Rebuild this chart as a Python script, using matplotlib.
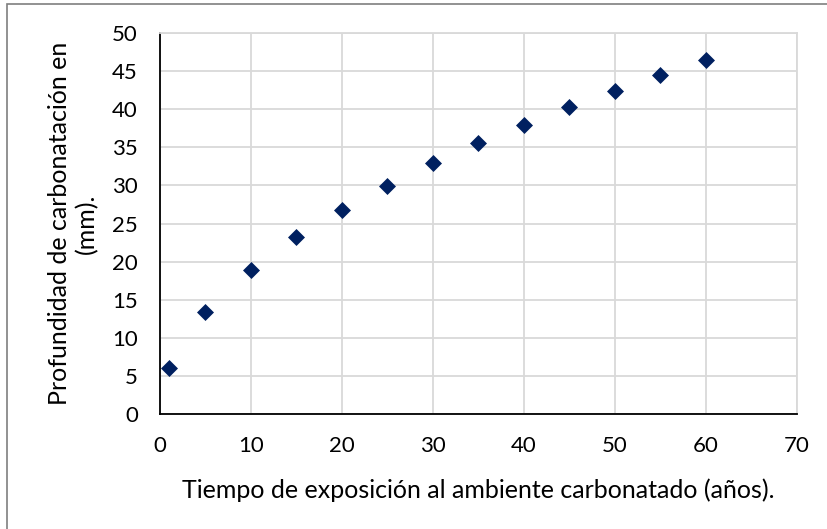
import matplotlib
matplotlib.use("Agg")
import matplotlib.pyplot as plt
from matplotlib.patches import Rectangle

# data
tiempo = [1, 5, 10, 15, 20, 25, 30, 35, 40, 45, 50, 55, 60]
profundidad = [6.0, 13.4, 18.9, 23.2, 26.8, 29.9, 32.9, 35.5, 37.9, 40.3, 42.4, 44.5, 46.5]
x_ticks = [0, 10, 20, 30, 40, 50, 60, 70]
y_ticks = [0, 5, 10, 15, 20, 25, 30, 35, 40, 45, 50]

plt.rcParams['font.family'] = ['Lato', 'DejaVu Sans']

fig = plt.figure(figsize=(8.28, 5.29), dpi=100)
ax = fig.add_axes([160 / 828, 1 - 414 / 529, 637 / 828, 381 / 529])

# outer chart border
fig.patches.append(Rectangle((7 / 828, -0.05), 1.0, 1 - 4 / 529 + 0.05,
                             transform=fig.transFigure, fill=False,
                             edgecolor='#7f7f7f', linewidth=1.2))

ax.scatter(tiempo, profundidad, marker='D', s=75, color='#002060', zorder=3,
           linewidths=0)

ax.set_xlim(0, 70)
ax.set_ylim(0, 50)
ax.set_xticks(x_ticks)
ax.set_yticks(y_ticks)
ax.grid(True, color='#d9d9d9', linewidth=1.3)
ax.set_axisbelow(True)

for side in ['top', 'right']:
    ax.spines[side].set_color('#d9d9d9')
    ax.spines[side].set_linewidth(1.3)
for side in ['left', 'bottom']:
    ax.spines[side].set_color('black')
    ax.spines[side].set_linewidth(1.3)

ax.tick_params(length=0, labelsize=16)
ax.tick_params(axis='x', pad=16)
ax.tick_params(axis='y', pad=16)

ax.set_xlabel("Tiempo de exposición al ambiente carbonatado (años).",
              fontsize=18, labelpad=16)
ax.set_ylabel("Profundidad de carbonatación en\n(mm).", fontsize=18,
              labelpad=10, linespacing=1.2)

fig.savefig("out.png", dpi=100)
